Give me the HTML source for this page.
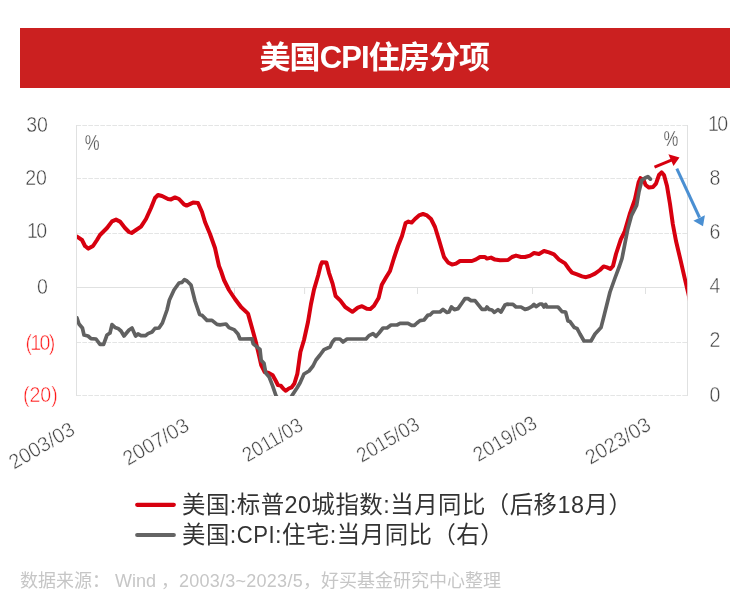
<!DOCTYPE html>
<html lang="zh-CN">
<head>
<meta charset="utf-8">
<title>美国CPI住房分项</title>
<style>
html,body{margin:0;padding:0;background:#fff;}
body{width:750px;height:610px;overflow:hidden;position:relative;font-family:"Liberation Sans","Noto Sans CJK SC",sans-serif;}
.banner{position:absolute;left:20px;top:28px;width:710px;height:60px;background:#cb2020;color:#fff;font-weight:bold;letter-spacing:-0.9px;font-size:31px;line-height:60px;text-align:center;}
.banner span{position:relative;top:0.3px;left:-0.7px;}
svg{position:absolute;left:0;top:0;}
.g{stroke:#e4e5e5;stroke-width:1;stroke-dasharray:4.7 1.3;}
.ax{stroke:#e0e1e1;stroke-width:1;}
.yl{font-family:"Liberation Sans","Noto Sans CJK SC",sans-serif;font-size:21.3px;fill:#444;stroke:#fff;stroke-width:0.45px;}
.yn{font-family:"Liberation Sans","Noto Sans CJK SC",sans-serif;font-size:21.3px;fill:#ff1a1a;stroke:#fff;stroke-width:0.5px;}
.xl{font-family:"Liberation Sans","Noto Sans CJK SC",sans-serif;font-size:20.7px;fill:#444;stroke:#fff;stroke-width:0.45px;}
.pc{font-family:"Liberation Sans","Noto Sans CJK SC",sans-serif;font-size:22px;fill:#4a4a4a;stroke:#fff;stroke-width:0.3px;}
.lg{font-family:"Liberation Sans","Noto Sans CJK SC",sans-serif;font-size:23.4px;letter-spacing:0.5px;fill:#333;}
.src{position:absolute;left:20px;top:567.8px;font-size:18px;line-height:26px;color:#c6c6c6;white-space:pre;}
</style>
</head>
<body>
<div class="banner"><span>美国CPI住房分项</span></div>
<svg width="750" height="610" viewBox="0 0 750 610">
<defs><clipPath id="plot"><rect x="77" y="120" width="610.2" height="276"/></clipPath></defs>
<line x1="76.3" x2="687" y1="125.5" y2="125.5" class="g"/>
<line x1="76.3" x2="687" y1="178.5" y2="178.5" class="g"/>
<line x1="76.3" x2="687" y1="233.5" y2="233.5" class="g"/>
<line x1="76.3" x2="687" y1="342.5" y2="342.5" class="g"/>
<line x1="76.3" x2="687" y1="395.5" y2="395.5" class="g"/>
<line x1="76.5" x2="76.5" y1="125" y2="396" class="ax"/>
<line x1="687.5" x2="687.5" y1="125" y2="396" class="ax"/>
<line x1="77" x2="687" y1="287.5" y2="287.5" class="ax"/>
<line x1="234.5" x2="234.5" y1="287.5" y2="294" class="ax"/>
<line x1="304.6" x2="304.6" y1="287.5" y2="294" class="ax"/>
<line x1="417.5" x2="417.5" y1="287.5" y2="294" class="ax"/>
<line x1="532.5" x2="532.5" y1="287.5" y2="294" class="ax"/>
<line x1="645.5" x2="645.5" y1="287.5" y2="294" class="ax"/>
<text transform="translate(48.0,132.2) scale(0.92,1)" class="yl" text-anchor="end">30</text>
<text transform="translate(47.0,185.0) scale(0.92,1)" class="yl" text-anchor="end">20</text>
<text transform="translate(45.6,238.4) scale(0.92,1)" class="yl" text-anchor="end" letter-spacing="-1.8">10</text>
<text transform="translate(48.0,293.5) scale(0.92,1)" class="yl" text-anchor="end">0</text>
<text transform="translate(39.6,349.8) scale(0.92,1)" class="yn" text-anchor="middle" letter-spacing="-1.8">(10)</text>
<text transform="translate(40.3,402) scale(0.92,1)" class="yn" text-anchor="middle">(20)</text>
<text transform="translate(708.0,130.8) scale(0.92,1)" class="yl" letter-spacing="-1.8">10</text>
<text transform="translate(709.4,184.9) scale(0.92,1)" class="yl">8</text>
<text transform="translate(709.4,238.9) scale(0.92,1)" class="yl">6</text>
<text transform="translate(709.4,292.8) scale(0.92,1)" class="yl">4</text>
<text transform="translate(709.4,346.7) scale(0.92,1)" class="yl">2</text>
<text transform="translate(709.4,401.7) scale(0.92,1)" class="yl">0</text>
<text transform="translate(84.7,149.8) scale(0.76,1)" class="pc">%</text>
<text transform="translate(663.6,145.9) scale(0.76,1)" class="pc">%</text>
<text transform="translate(76.4,433.4) rotate(-30.3) scale(0.965,1)" class="xl" text-anchor="end">2003/03</text>
<text transform="translate(190.6,429.4) rotate(-30.3) scale(0.97,1)" class="xl" text-anchor="end">2007/03</text>
<text transform="translate(304.5,429.2) rotate(-30.3) scale(0.9,1)" class="xl" text-anchor="end">2011/03</text>
<text transform="translate(421.2,428.3) rotate(-30.3) scale(0.92,1)" class="xl" text-anchor="end">2015/03</text>
<text transform="translate(538.4,427.2) rotate(-30.3) scale(0.93,1)" class="xl" text-anchor="end">2019/03</text>
<text transform="translate(652.4,428.8) rotate(-30.3) scale(0.96,1)" class="xl" text-anchor="end">2023/03</text>
<g clip-path="url(#plot)" fill="none" stroke-linejoin="round" stroke-linecap="round">
<path d="M77,236.7 L82,240 L85,246 L88.4,248.6 L93,246 L97,240 L100,235 L107,228 L112,221.4 L116,219.6 L120,221.6 L125,228 L129,232 L131.6,233 L136,230 L141,226.6 L146,219 L151,208 L155,198 L158,195 L162,196 L168,199 L171,199.4 L175,197.4 L179,199 L184,204.4 L186.6,205.6 L193,202.6 L198,203 L202,212 L205,222 L210,234 L215,248 L219,266 L221,271 L224,280 L229,290 L235,299 L241,307 L248,313.6 L252.6,330 L256,342.6 L259,355.2 L261.2,365 L264.7,372 L268.7,373 L272.7,375.3 L275.6,380.5 L277.9,385 L280.7,385.6 L283.6,389 L285.9,390.8 L288.8,388.5 L291.6,387.4 L294.5,383.3 L297.4,373.6 L299,362 L300.4,352 L304,340 L308,322 L311,304 L314,289.6 L318.2,275.2 L320.6,265.6 L322,262.2 L326.4,262.6 L329,272.8 L332.6,283.6 L335.6,296 L340.4,300.6 L345.2,307 L352.4,311.8 L357.8,307.6 L362,306.2 L366.8,308.8 L370.4,309 L374,305.8 L378.6,298 L381.8,284.8 L386,277.6 L390,271 L394,258 L398,246 L402,236 L405.6,223 L408.4,221.6 L411.6,222.6 L415,219 L419,215.4 L423,214 L427,215.4 L431,219 L435,227 L439,240 L444,257 L448,262.4 L452,264.6 L456,263.6 L460,261 L472,261 L476,259.4 L480,257 L485,257 L487,258.6 L491,257.6 L495,259.6 L500,260.2 L508,260 L512,257 L516,255.6 L521,257 L525,257 L530,255.6 L534,253 L539,254 L544,251 L549,252.4 L554,254.4 L559,259.6 L565,263.4 L569,269 L572,272.6 L577,274.4 L582,276.4 L586,277.2 L590,276 L595,273.6 L600,270 L603.6,266.4 L607,267.4 L610.4,269 L613,266 L616,254 L620.8,239.3 L624.5,232 L629.7,214.2 L634.9,199.5 L638.7,182 L640.4,178.2 L643.6,180 L645.6,185 L649,187.6 L653,187 L656,183.6 L659,175 L661.6,172.4 L664,175 L667,186 L670,204 L672.8,224 L676,241 L680.6,260.4 L684.5,277.4 L688.3,293.4 L690,301" stroke="#d7000f" stroke-width="4"/>
<path d="M77,318 L79,324 L82.4,328 L84,335 L88,336 L91,338.6 L96,339 L100,344.4 L103.6,344.4 L107,335 L110,333 L112,324.6 L115,327.4 L118,328.4 L121,331 L124,336 L129,330 L132,328 L135.6,336 L138,334 L141,335.6 L145.6,335.6 L148,333.6 L152,332 L155,328.4 L159,328 L162.4,323 L167,310 L169.4,300 L174,290 L179,283 L182,282.4 L184.4,279.6 L187,281 L191,285 L195,301 L199.6,314.4 L202,315.2 L207,320.4 L212,320.4 L217,324.4 L220,324.8 L226,324 L229,327.6 L234,329.6 L238,334 L240,339 L252,338.8 L253.2,343.8 L256.6,346.6 L260,349.5 L261.2,360.4 L264,363.3 L265.8,373 L269.2,377 L272.7,386.2 L276.1,396 L280,404 L284,408 L288,404 L292,395.6 L297,388 L300,383 L304,374 L309,371 L313,366 L316,360 L320,355 L324,349.6 L330,347 L332.4,342 L335,339 L340,339 L343,342 L347,339 L366,339 L369,335.6 L373,333.6 L376,336.4 L379,333 L383,328 L387,328 L391,325 L397,325 L400,323.4 L408,323.4 L411.6,325.4 L414.4,325.4 L417,323 L420,320.6 L424,320 L428,315 L430,315 L433,312 L440,312 L443,309.4 L447,312.4 L449,312 L451.4,307 L454.4,309.6 L458,308.6 L462,303 L465,298.6 L468,298.6 L471,300.6 L475,300.6 L479,305.6 L482,309.4 L485.6,309.4 L487,307 L489,309.4 L492,310 L494.4,312.4 L498,309.6 L501,312 L505,305 L507,304.2 L513,304.4 L516,307 L521,307 L525,309.4 L528,308.6 L532,306.4 L534,304.4 L536,306.6 L540,304 L542,304 L544,307 L545.6,304.4 L547,307 L558,307 L562,311.6 L565.6,312 L568,321 L570,321.6 L574.4,327.6 L577,328.4 L580,334 L584,341 L591,341 L595,334 L601,327.6 L604,316 L610,292 L615,278 L619.5,266 L622,258.5 L624.9,243.7 L627.8,229 L631.4,215.7 L636.6,205.4 L638.9,192.1 L641.8,180.3 L645,178 L647.9,176.6 L650.4,179.1" stroke="#616161" stroke-width="3.7"/>
</g>
<g>
<line x1="654.5" y1="167.2" x2="672" y2="159.9" stroke="#d7000f" stroke-width="3"/>
<polygon points="679.5,157.4 668.4,154.2 673.5,166" fill="#d7000f"/>
<line x1="676.8" y1="168.6" x2="699.5" y2="217.5" stroke="#4a8fd2" stroke-width="3"/>
<polygon points="703,226.2 693.4,220.7 704.9,215.3" fill="#4a8fd2"/>
</g>
<line x1="137.2" x2="173.8" y1="504.8" y2="504.8" stroke="#d7000f" stroke-width="4.2" stroke-linecap="round"/>
<line x1="137.2" x2="173.8" y1="535" y2="535" stroke="#646464" stroke-width="4.2" stroke-linecap="round"/>
<text x="182" y="513" class="lg">美国:标普20城指数:当月同比（后移18月）</text>
<text x="182" y="543.2" class="lg">美国:<tspan textLength="38.3" lengthAdjust="spacingAndGlyphs">CPI</tspan>:住宅:当月同比（右）</text>
</svg>
<div class="src">数据来源： Wind ，<span style="letter-spacing:0.25px">2003/3~2023/5</span>，好买基金研究中心整理</div>
</body>
</html>
